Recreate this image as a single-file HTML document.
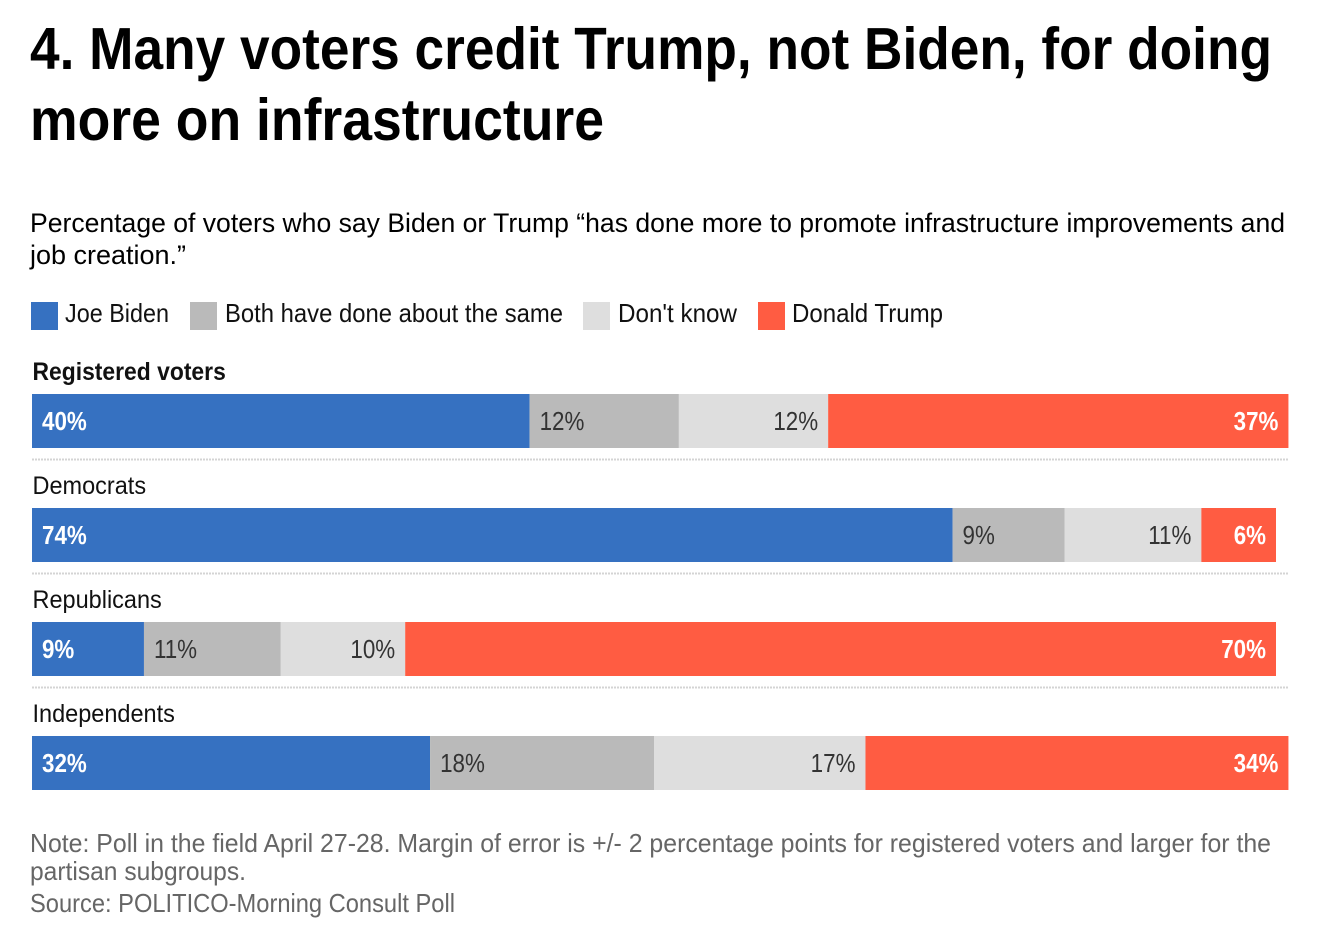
<!DOCTYPE html>
<html lang="en">
<head>
<meta charset="utf-8">
<title>Many voters credit Trump, not Biden</title>
<style>
html,body{margin:0;padding:0;background:#fff;}
svg{display:block;font-family:"Liberation Sans",sans-serif;}
</style>
</head>
<body>
<svg id="chart" width="1324" height="946" viewBox="0 0 1324 946" xmlns="http://www.w3.org/2000/svg">
  <rect width="1324" height="946" fill="#fff"/>
  <g font-size="59" font-weight="700" fill="#000">
    <text x="30" y="69" textLength="1242" lengthAdjust="spacingAndGlyphs">4. Many voters credit Trump, not Biden, for doing</text>
    <text x="30" y="140" textLength="574" lengthAdjust="spacingAndGlyphs">more on infrastructure</text>
  </g>
  <g font-size="27" fill="#000">
    <text x="30" y="232" textLength="1255" lengthAdjust="spacingAndGlyphs">Percentage of voters who say Biden or Trump “has done more to promote infrastructure improvements and</text>
    <text x="30" y="264" textLength="156" lengthAdjust="spacingAndGlyphs">job creation.”</text>
  </g>
  <g font-size="26" fill="#111">
    <g>
      <rect x="31" y="302" width="27" height="28" fill="#3671c1"/>
      <text x="65" y="322" textLength="104" lengthAdjust="spacingAndGlyphs">Joe Biden</text>
    </g>
    <g>
      <rect x="190" y="302" width="27" height="28" fill="#bababa"/>
      <text x="225" y="322" textLength="338" lengthAdjust="spacingAndGlyphs">Both have done about the same</text>
    </g>
    <g>
      <rect x="583" y="302" width="27" height="28" fill="#dedede"/>
      <text x="618" y="322" textLength="119" lengthAdjust="spacingAndGlyphs">Don't know</text>
    </g>
    <g>
      <rect x="758" y="302" width="27" height="28" fill="#ff5c42"/>
      <text x="792" y="322" textLength="151" lengthAdjust="spacingAndGlyphs">Donald Trump</text>
    </g>
  </g>
  <g id="bars"></g>
  <g font-size="26" fill="#666">
    <text x="30" y="852" textLength="1241" lengthAdjust="spacingAndGlyphs">Note: Poll in the field April 27-28. Margin of error is +/- 2 percentage points for registered voters and larger for the</text>
    <text x="30" y="880" textLength="216" lengthAdjust="spacingAndGlyphs">partisan subgroups.</text>
    <text x="30" y="912" textLength="425" lengthAdjust="spacingAndGlyphs">Source: POLITICO-Morning Consult Poll</text>
  </g>
</svg>
<script>
const groups = ["Registered voters", "Democrats", "Republicans", "Independents"];
const seriesNames = ["Joe Biden", "Both have done about the same", "Don't know", "Donald Trump"];
const bidenValues = [40, 74, 9, 32];
const bothValues = [12, 9, 11, 18];
const dontKnowValues = [12, 11, 10, 17];
const trumpValues = [37, 6, 70, 34];

const NS = "http://www.w3.org/2000/svg";
const root = document.getElementById("bars");
const seriesValues = [bidenValues, bothValues, dontKnowValues, trumpValues];
const seriesColors = ["#3671c1", "#bababa", "#dedede", "#ff5c42"];
const labelColors = ["#fff", "#333", "#333", "#fff"];
const labelWeights = ["700", "400", "400", "700"];
const x0 = 32, pxPerPoint = 12.44;
const xScale = v => x0 + v * pxPerPoint;
const rowY = i => 394 + i * 114;
const barHeight = 54;

function squeeze(t, factor) {
  const len = t.getComputedTextLength();
  t.setAttribute("textLength", (len * factor).toFixed(1));
  t.setAttribute("lengthAdjust", "spacingAndGlyphs");
}

groups.forEach((group, i) => {
  const y = rowY(i);
  const label = document.createElementNS(NS, "text");
  
  
  label.setAttribute("x", x0 + 0.5);
  label.setAttribute("y", y - 14);
  label.setAttribute("font-size", "25");
  label.setAttribute("font-weight", i === 0 ? "700" : "400");
  label.setAttribute("fill", "#111");
  label.textContent = group;
  root.appendChild(label);
  squeeze(label, i === 0 ? 0.915 : 0.94);

  let cum = 0;
  seriesValues.forEach((values, s) => {
    const v = values[i];
    const seg = document.createElementNS(NS, "rect");
    
    
    seg.setAttribute("x", xScale(cum));
    seg.setAttribute("y", y);
    seg.setAttribute("width", v * pxPerPoint);
    seg.setAttribute("height", barHeight);
    seg.setAttribute("fill", seriesColors[s]);
    root.appendChild(seg);

    const val = document.createElementNS(NS, "text");
    
    
    const leftAligned = s < 2;
    val.setAttribute("x", leftAligned ? xScale(cum) + 10 : xScale(cum + v) - 10);
    val.setAttribute("y", y + 36);
    val.setAttribute("text-anchor", leftAligned ? "start" : "end");
    val.setAttribute("font-size", "26");
    val.setAttribute("font-weight", labelWeights[s]);
    val.setAttribute("fill", labelColors[s]);
    val.textContent = v + "%";
    root.appendChild(val);
    squeeze(val, 0.86);
    cum += v;
  });

  if (i < groups.length - 1) {
    const rule = document.createElementNS(NS, "line");
    
    
    rule.setAttribute("x1", x0);
    rule.setAttribute("x2", 1288);
    rule.setAttribute("y1", y + barHeight + 11.5);
    rule.setAttribute("y2", y + barHeight + 11.5);
    rule.setAttribute("stroke", "#d4d4d4");
    rule.setAttribute("stroke-width", "2");
    rule.setAttribute("stroke-dasharray", "2 1");
    root.appendChild(rule);
  }
});
</script>
</body>
</html>
